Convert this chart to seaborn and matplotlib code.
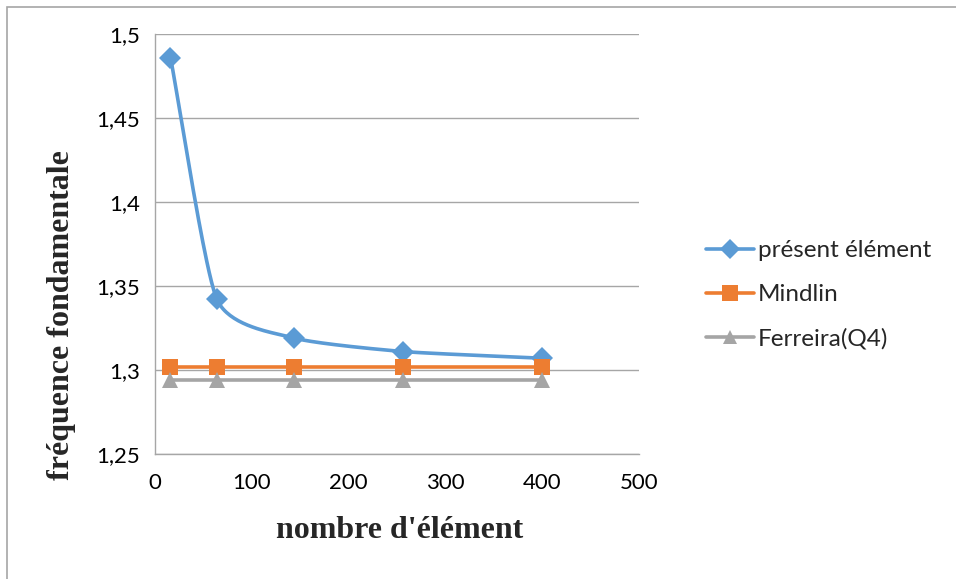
import numpy as np
import pandas as pd
import matplotlib
matplotlib.use("Agg")
import matplotlib.pyplot as plt
from matplotlib.ticker import FuncFormatter, MultipleLocator
from matplotlib.patches import Rectangle
from matplotlib.lines import Line2D
import seaborn as sns

# ---- data ----
elements = [16, 64, 144, 256, 400]
present = [1.486, 1.342, 1.319, 1.311, 1.307]
mindlin = [1.302, 1.302, 1.302, 1.302, 1.302]
ferreira = [1.294, 1.294, 1.294, 1.294, 1.294]
series_names = ["présent élément", "Mindlin", "Ferreira(Q4)"]
colors = ["#5B9BD5", "#ED7D31", "#A5A5A5"]
markers = ["D", "s", "^"]

sns.set_theme(style="white")
plt.rcParams['font.family'] = ['Lato', 'DejaVu Sans']

fig = plt.figure(figsize=(9.56, 5.79), dpi=100)
ax = fig.add_axes([155/956, 1-454/579, (639-155)/956, (454-34)/579])

df = pd.DataFrame({
    "x": elements * 3,
    "y": present + mindlin + ferreira,
    "s": [series_names[0]]*5 + [series_names[1]]*5 + [series_names[2]]*5,
})


def catmull(xs, ys, n=40):
    xs = np.asarray(xs, float); ys = np.asarray(ys, float)
    px = np.concatenate([[2*xs[0]-xs[1]], xs, [2*xs[-1]-xs[-2]]])
    py = np.concatenate([[2*ys[0]-ys[1]], ys, [2*ys[-1]-ys[-2]]])
    ox, oy = [], []
    t = np.linspace(0, 1, n)
    for i in range(1, len(px)-2):
        p0, p1, p2, p3 = [np.array([px[j], py[j]]) for j in (i-1, i, i+1, i+2)]
        m1 = (p2 - p0) / 2 * 0.6
        m2 = (p3 - p1) / 2 * 0.6
        h00 = 2*t**3 - 3*t**2 + 1
        h10 = t**3 - 2*t**2 + t
        h01 = -2*t**3 + 3*t**2
        h11 = t**3 - t**2
        pts = np.outer(h00, p1) + np.outer(h10, m1) + np.outer(h01, p2) + np.outer(h11, m2)
        ox.extend(pts[:, 0]); oy.extend(pts[:, 1])
    return np.array(ox), np.array(oy)

# gridlines below
for v in np.arange(1.25, 1.5001, 0.05):
    ax.axhline(v, color="#A6A6A6", lw=1.0, zorder=0)

# smoothed line for present element
sx, sy = catmull(elements, present)
ax.plot(sx, sy, color=colors[0], lw=2.6, zorder=3, solid_capstyle="round")

# straight lines for other series
sns.lineplot(data=df[df.s != series_names[0]], x="x", y="y", hue="s",
             palette=colors[1:], hue_order=series_names[1:], lw=2.6,
             ax=ax, legend=False, zorder=3)

# markers
msizes = [11, 12, 11]
for name, c, m, ms in zip(series_names, colors, markers, msizes):
    sub = df[df.s == name]
    ax.plot(sub.x, sub.y, linestyle="none", marker=m, color=c, ms=ms, zorder=4,
            markeredgewidth=0)

ax.set_xlim(0, 500)
ax.set_ylim(1.25, 1.5)
ax.xaxis.set_major_locator(MultipleLocator(100))
ax.yaxis.set_major_locator(MultipleLocator(0.05))
ax.yaxis.set_major_formatter(FuncFormatter(lambda v, p: ("%g" % round(v, 2)).replace(".", ",")))
ax.tick_params(axis="both", labelsize=16, colors="#000000", length=0)
ax.tick_params(axis="x", pad=14)
ax.tick_params(axis="y", pad=11)

for side in ["top", "right"]:
    ax.spines[side].set_visible(False)
for side in ["left", "bottom"]:
    ax.spines[side].set_color("#A6A6A6")
    ax.spines[side].set_linewidth(1.0)

ax.set_xlabel("nombre d'élément", fontfamily="Liberation Serif", fontweight="bold",
              fontsize=23)
ax.set_ylabel("fréquence fondamentale", fontfamily="Liberation Serif", fontweight="bold",
              fontsize=23)
ax.xaxis.set_label_coords((400-155)/484, (454-530)/420)
ax.yaxis.set_label_coords((62-155)/484, (454-315)/420)
ax.xaxis.label.set_verticalalignment("center")
ax.yaxis.label.set_verticalalignment("center")

handles = [Line2D([0], [0], color=c, lw=2.6, marker=m, ms=ms*0.95, markeredgewidth=0)
           for c, m, ms in zip(colors, markers, msizes)]
leg = fig.legend(handles, series_names, loc="center left",
                 bbox_to_anchor=(684/956, 1-295/579), frameon=False,
                 fontsize=17.5, handlelength=2.0, handletextpad=0.15,
                 labelspacing=0.95)

# outer chart border
fig.patches.append(Rectangle((7/956, -0.1), 1.2, 1.1 - 7/579, transform=fig.transFigure,
                             fill=False, edgecolor="#A6A6A6", lw=1.2))

fig.savefig("out.png", dpi=100)
